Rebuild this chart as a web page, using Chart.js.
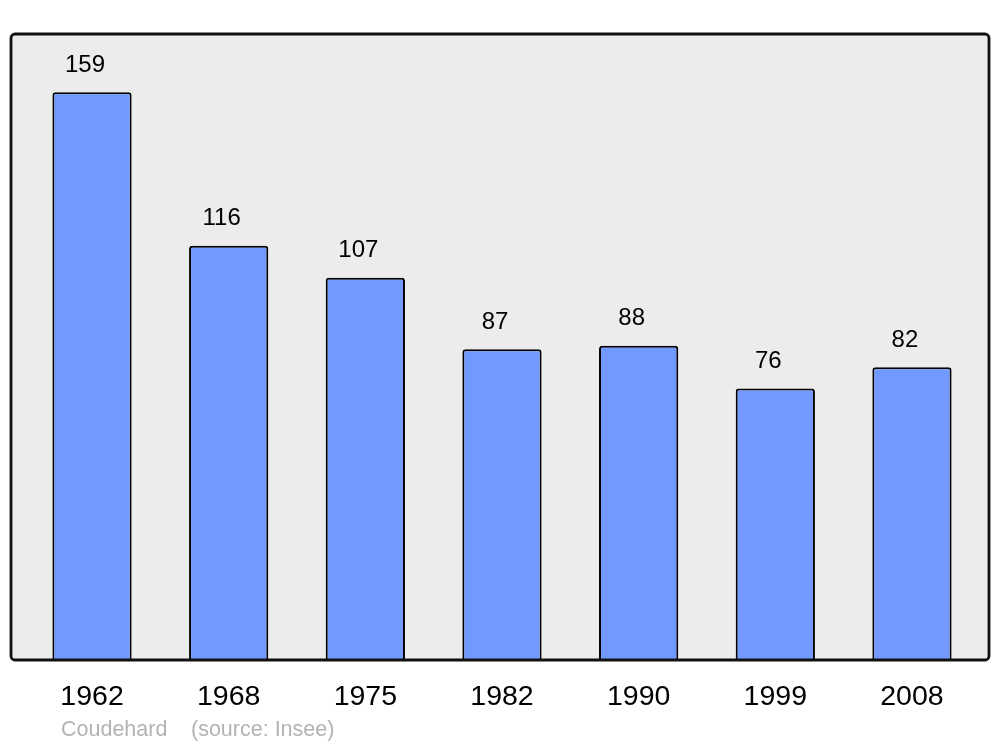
<!DOCTYPE html>
<html>
<head>
<meta charset="utf-8">
<script src="https://cdn.jsdelivr.net/npm/chart.js@4/dist/chart.umd.min.js"></script>
<style>
  html, body { margin: 0; padding: 0; background: #fff; }
  #wrap { width: 1000px; height: 747px; }
</style>
</head>
<body>
<div id="wrap"><canvas id="popChart" width="1000" height="747"></canvas></div>
<script>
const years = ["1962", "1968", "1975", "1982", "1990", "1999", "2008"];
const population = [159, 116, 107, 87, 88, 76, 82];
const yMax = 175;
const footerLeft = "Coudehard";
const footerRight = "(source: Insee)";

// grey panel with black frame behind the bars
const framePlugin = {
    id: 'frame',
    beforeDatasetsDraw(chart) {
        const c = chart.ctx;
        c.save();
        c.beginPath();
        c.roundRect(11, 34, 978, 626, 4);
        c.fillStyle = '#ececec';
        c.fill();
        c.restore();
    },
    afterDatasetsDraw(chart) {
        const c = chart.ctx;
        c.save();
        c.beginPath();
        c.roundRect(11, 34, 978, 626, 4);
        c.lineWidth = 2.8;
        c.strokeStyle = '#111';
        c.stroke();
        c.restore();
    }
};

// value above each bar + footer
const labelPlugin = {
    id: 'labels',
    afterDraw(chart) {
        const c = chart.ctx;
        const meta = chart.getDatasetMeta(0);
        c.save();
        c.font = '24px "Liberation Sans", Arial, sans-serif';
        c.fillStyle = '#000';
        c.textAlign = 'center';
        c.textBaseline = 'middle';
        meta.data.forEach((bar, i) => {
            c.fillText(String(population[i]), bar.x - 7, bar.y - 27);
        });
        c.font = '21.5px "Liberation Sans", Arial, sans-serif';
        c.fillStyle = '#b3b3b3';
        c.textAlign = 'left';
        c.fillText(footerLeft, 61, 730);
        c.fillText(footerRight, 191, 730);
        c.restore();
    }
};

new Chart(document.getElementById('popChart').getContext('2d'), {
    type: 'bar',
    data: {
        labels: years,
        datasets: [{
            data: population,
            backgroundColor: '#7299ff',
            borderColor: '#000',
            borderWidth: 2,
            borderRadius: 3,
            barPercentage: 0.58,
            categoryPercentage: 1
        }]
    },
    options: {
        responsive: false,
        animation: false,
        layout: { padding: { left: 23.7, right: 19.7, top: 35, bottom: 0 } },
        plugins: {
            legend: { display: false },
            tooltip: { enabled: false }
        },
        scales: {
            x: {
                offset: true,
                grid: { display: false, drawTicks: false },
                border: { display: false },
                ticks: {
                    color: '#000',
                    padding: 20,
                    font: { size: 28.5, family: '"Liberation Sans", Arial, sans-serif' }
                },
                afterFit: s => { s.height = 87; }
            },
            y: {
                display: false,
                min: 0,
                max: yMax
            }
        }
    },
    plugins: [framePlugin, labelPlugin]
});
</script>
</body>
</html>
